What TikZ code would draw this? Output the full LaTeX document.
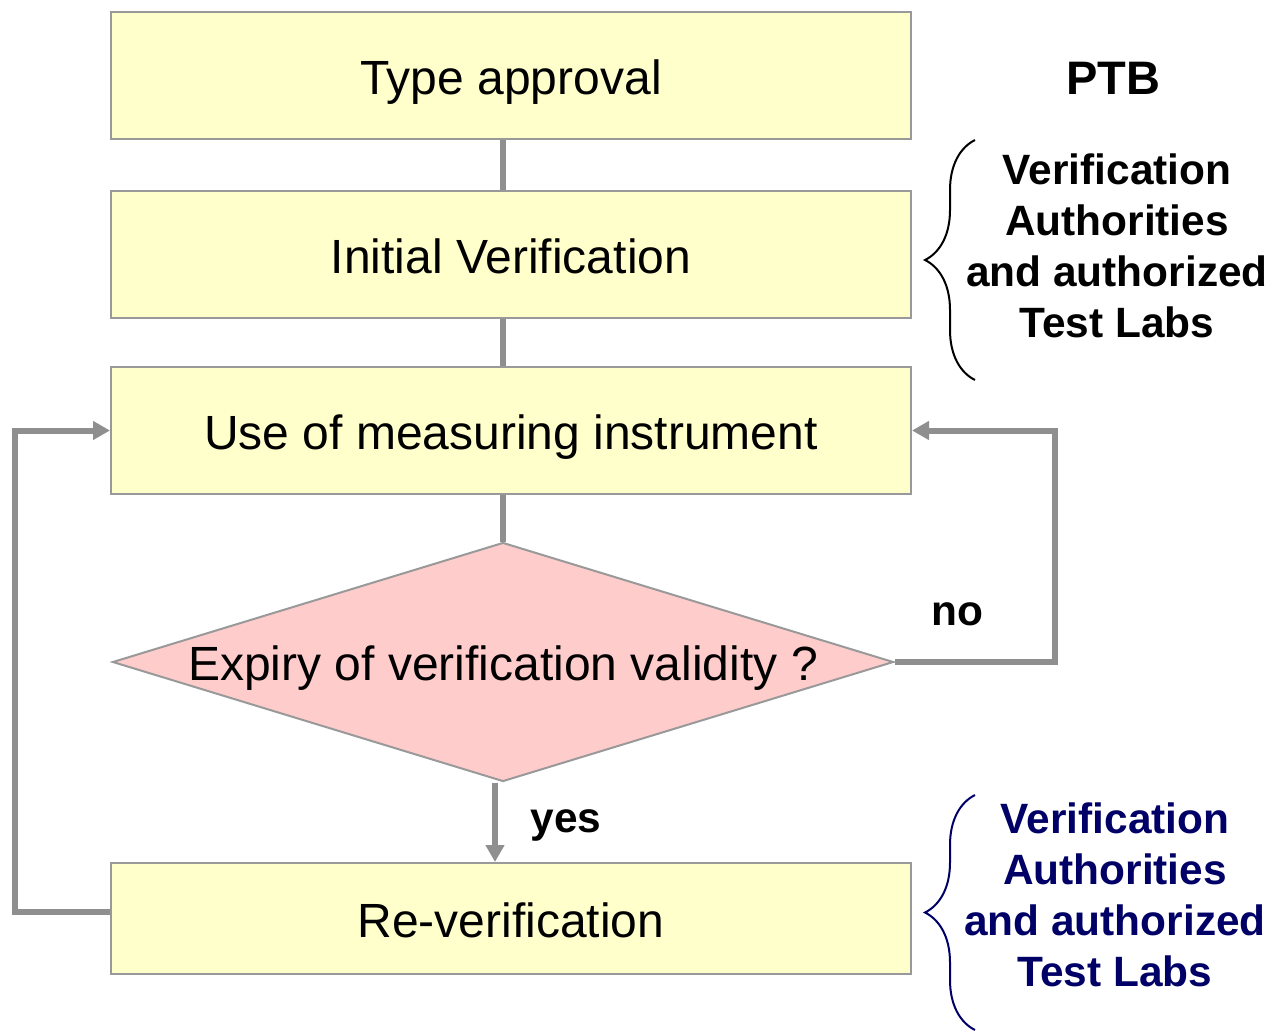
\documentclass[tikz,border=0pt]{standalone}
\usepackage{fontspec}
\setmainfont{Liberation Sans}
\usetikzlibrary{shapes.geometric,arrows.meta,decorations.pathreplacing}
\definecolor{boxyellow}{HTML}{FFFFCC}
\definecolor{boxpink}{HTML}{FFCCCC}
\definecolor{edgegray}{HTML}{999999}
\definecolor{flowgray}{HTML}{8F8F8F}
\definecolor{labblue}{HTML}{000066}
\begin{document}
\begin{tikzpicture}[x=0.5pt, y=-0.5pt, line join=miter,
	stage/.style={draw=edgegray, line width=1pt, fill=boxyellow, minimum width=400pt, minimum height=63.5pt, inner sep=0pt, text height=19pt, text depth=0.5pt, font=\fontsize{24}{28}\selectfont},
	decision/.style={diamond, draw=edgegray, line width=1pt, fill=boxpink, minimum width=390.5pt, minimum height=119.5pt, inner sep=0pt, text height=19pt, text depth=0.5pt, font=\fontsize{24}{28}\selectfont},
	flow/.style={draw=flowgray, line width=3pt},
	flowarrow/.style={flow, -{Triangle[length=8.5pt, width=9pt]}},
	tag/.style={font=\bfseries\fontsize{21.2}{25.5}\selectfont, align=center},
	bracket/.style={decorate, decoration={brace, amplitude=25pt}, line width=1pt}]
	\useasboundingbox (0,0) rectangle (1273,1033);
	% Ablauf
	\node[stage] (typeapp) at (511,75.5) {Type approval};
	\node[stage] (initver) at (511,254.5) {Initial Verification};
	\node[stage] (useinst) at (511,430.5) {Use of measuring instrument};
	\node[decision] (expiry) at (503,662) {\makebox[0pt]{Expiry of verification validity ?}};
	\node[stage, minimum height=55.5pt] (reverif) at (511,918.5) {Re-verification};
	\coordinate (spine) at (503,0);
	\coordinate (yesline) at (495,0);
	\coordinate (leftrail) at (15,0);
	\coordinate (rightrail) at (1055,0);
	% Verbindungen
	\draw[flow] (typeapp.south -| spine) -- (initver.north -| spine);
	\draw[flow] (initver.south -| spine) -- (useinst.north -| spine);
	\draw[flow] (useinst.south -| spine) -- (expiry.north);
	\draw[flowarrow] (expiry.south -| yesline) -- (reverif.north -| yesline);
	\draw[flowarrow] (expiry.east) -- (expiry.east -| rightrail) |- (useinst.east);
	\draw[flowarrow] ([yshift=3.5pt]reverif.west) -- ([yshift=3.5pt]reverif.west -| leftrail) |- (useinst.west);
	\node[tag] (yes) at (566,825) {yes};
	\node[tag] (no) at (957,614) {no};
	% Zustaendigkeiten
	\node[tag, font=\bfseries\fontsize{23.5}{28}\selectfont] (ptb) at (1113,78) {PTB};
	\draw[bracket] (975,380) -- (975,140);
	\node[tag] (authtop) at (1117,246) {Verification\\Authorities\\and authorized\\Test Labs};
	\draw[bracket, labblue] (975,1030) -- (975,795);
	\node[tag, text=labblue] (authbot) at (1115,895) {Verification\\Authorities\\and authorized\\Test Labs};
\end{tikzpicture}
\end{document}
